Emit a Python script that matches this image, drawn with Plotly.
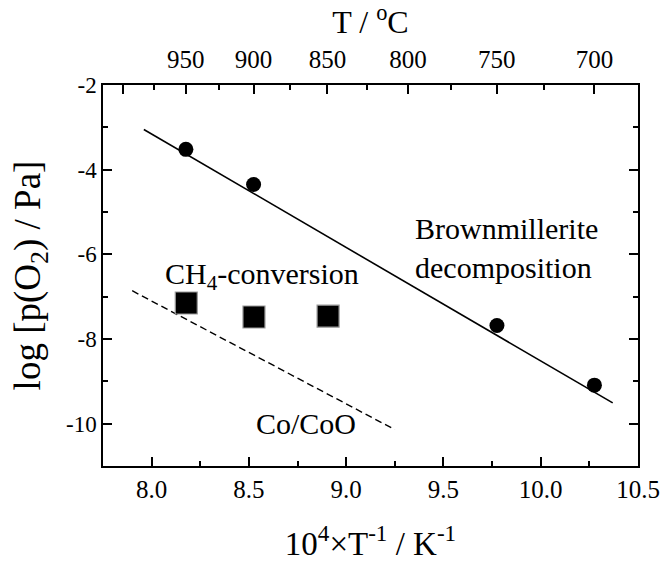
import plotly.graph_objects as go

# Brownmillerite decomposition points
bm_x = [8.176, 8.524, 9.775, 10.276]
bm_y = [-3.52, -4.35, -7.68, -9.09]
# Fit line (solid)
fit_x = [7.96, 10.37]
fit_y = [-3.05, -9.51]
# CH4-conversion points
ch4_x = [8.178, 8.526, 8.907]
ch4_y = [-7.15, -7.48, -7.46]
# Co/CoO equilibrium (dashed)
co_x = [7.90, 9.25]
co_y = [-6.86, -10.14]

# Top axis temperatures
top_major_T = [1000, 950, 900, 850, 800, 750, 700]
top_major_lbl = ["", "950", "900", "850", "800", "750", "700"]
top_minor_T = [975, 925, 875, 825, 775, 725]

FONT = "Liberation Serif"

fig = go.Figure()
fig.add_trace(go.Scatter(x=fit_x, y=fit_y, mode="lines",
                         line=dict(color="black", width=1.6), showlegend=False))
fig.add_trace(go.Scatter(x=co_x, y=co_y, mode="lines",
                         line=dict(color="black", width=1.4, dash="7px,4px"), showlegend=False))
fig.add_trace(go.Scatter(x=bm_x, y=bm_y, mode="markers",
                         marker=dict(symbol="circle", size=15, color="black"), showlegend=False))
fig.add_trace(go.Scatter(x=ch4_x, y=ch4_y, mode="markers",
                         marker=dict(symbol="square", size=22, color="black",
                                     line=dict(color="#999999", width=1.2)), showlegend=False))
fig.add_trace(go.Scatter(x=[8.0], y=[-5], xaxis="x2", mode="markers",
                         marker=dict(opacity=0), showlegend=False, hoverinfo="skip"))

top_vals = [1e4 / (t + 273.15) for t in top_major_T]
top_minor_vals = [1e4 / (t + 273.15) for t in top_minor_T]

fig.update_layout(
    width=662, height=563,
    margin=dict(l=103, r=24, t=85, b=97),
    paper_bgcolor="white", plot_bgcolor="white",
    font=dict(family=FONT, color="black", size=24),
    xaxis=dict(range=[7.75, 10.5], tickmode="array", automargin=False,
               tickvals=[8.0, 8.5, 9.0, 9.5, 10.0, 10.5],
               ticktext=["8.0", "8.5", "9.0", "9.5", "10.0", "10.5"],
               ticks="inside", ticklen=9, tickwidth=1.5, tickcolor="black",
               minor=dict(tickmode="array", tickvals=[7.75, 8.25, 8.75, 9.25, 9.75, 10.25],
                          ticks="inside", ticklen=5, tickwidth=1.5, tickcolor="black"),
               showline=True, linecolor="black", linewidth=1.5, mirror=False,
               showgrid=False, zeroline=False,
               tickfont=dict(size=25, family=FONT, color="black"),
               title=dict(text="10<sup>4</sup>×T<sup>-1</sup> / K<sup>-1</sup>",
                          font=dict(size=33, family=FONT, color="black"), standoff=30)),
    xaxis2=dict(range=[7.75, 10.5], overlaying="x", side="top", tickmode="array",
                automargin=False,
                tickvals=top_vals, ticktext=top_major_lbl,
                ticks="inside", ticklen=9, tickwidth=1.5, tickcolor="black",
                minor=dict(tickmode="array", tickvals=top_minor_vals,
                           ticks="inside", ticklen=5, tickwidth=1.5, tickcolor="black"),
                showline=True, linecolor="black", linewidth=1.5,
                showgrid=False, zeroline=False, ticklabelstandoff=5,
                tickfont=dict(size=25, family=FONT, color="black"),
                title=dict(text="T / <sup>o</sup>C", font=dict(size=32, family=FONT, color="black"),
                           standoff=5)),
    yaxis=dict(range=[-11, -2], tickmode="array", automargin=False,
               tickvals=[-2, -4, -6, -8, -10], ticktext=["-2", "-4", "-6", "-8", "-10"],
               ticks="inside", ticklen=9, tickwidth=1.5, tickcolor="black",
               minor=dict(tickmode="array", tickvals=[-3, -5, -7, -9, -11],
                          ticks="inside", ticklen=5, tickwidth=1.5, tickcolor="black"),
               showline=True, linecolor="black", linewidth=1.5, mirror="ticks",
               showgrid=False, zeroline=False,
               tickfont=dict(size=23, family=FONT, color="black"),
               title=dict(text="log [p(O<sub>2</sub>) / Pa]",
                          font=dict(size=37, family=FONT, color="black"), standoff=14)),
)

fig.add_annotation(x=9.345, y=-5.84, xref="x", yref="y", xanchor="left", yanchor="middle",
                   text="Brownmillerite<br>decomposition", showarrow=False, align="left",
                   font=dict(size=30, family=FONT, color="black"))
fig.add_annotation(x=8.057, y=-6.5, xref="x", yref="y", xanchor="left", yanchor="middle",
                   text="CH<sub>4</sub>-conversion", showarrow=False,
                   font=dict(size=30, family=FONT, color="black"))
fig.add_annotation(x=8.524, y=-10.0, xref="x", yref="y", xanchor="left", yanchor="middle",
                   text="Co/CoO", showarrow=False,
                   font=dict(size=30, family=FONT, color="black"))

fig.write_html("out.html")
